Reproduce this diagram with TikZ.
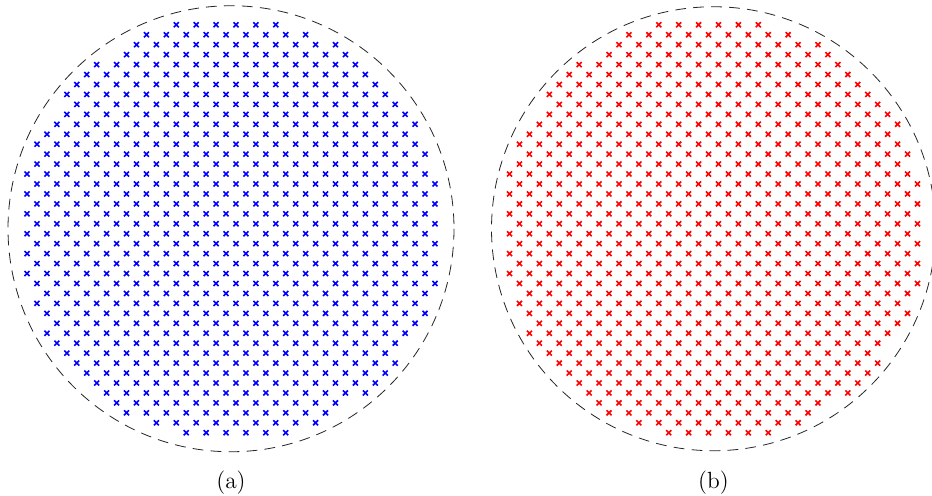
\documentclass[tikz,border=0pt]{standalone}
\usetikzlibrary{calc}
\tikzset{
  ring/.style={draw=black!85, line width=0.45pt, dash pattern=on 6pt off 4pt},
  crossmark/.style={line width=0.9pt, line cap=butt},
  sublabel/.style={anchor=base, inner sep=0pt, font=\fontsize{13}{16}\selectfont}
}
\newcommand{\latticedisk}[3]{%
  % #1 = centre x, #2 = centre y, #3 = colour
  \foreach \m in {-21,...,20}{%
    \foreach \n in {-21,...,20}{%
      \pgfmathtruncatemacro{\parity}{mod(\m+\n+100,2)}%
      \pgfmathtruncatemacro{\inside}{((\m+0.5)^2+(\n+0.5)^2)<457 ? 1 : 0}%
      \ifnum\parity=1 \ifnum\inside=1
        \pgfmathsetmacro{\px}{#1+(\m+0.5)*9.95}%
        \pgfmathsetmacro{\py}{#2+(\n+0.5)*9.95}%
        \draw[crossmark, draw=#3] (\px-2.5,\py-2.5) -- (\px+2.5,\py+2.5)
                                  (\px-2.5,\py+2.5) -- (\px+2.5,\py-2.5);
      \fi\fi
    }%
  }%
}
\begin{document}
\begin{tikzpicture}[x=0.5556pt, y=-0.5556pt]
  \useasboundingbox (0,0) rectangle (932,496);
  \clip (0,0) rectangle (932,496);
  % left disk (a)
  \draw[ring] (231,228.75) circle[radius=223];
  \latticedisk{231}{228.75}{blue}
  \node[sublabel] (la) at (231,488) {(a)};
  % right disk (b)
  \draw[ring] (713.5,228.75) circle[radius=222];
  \latticedisk{713.5}{228.75}{red}
  \node[sublabel] (lb) at (713.5,488) {(b)};
\end{tikzpicture}
\end{document}
